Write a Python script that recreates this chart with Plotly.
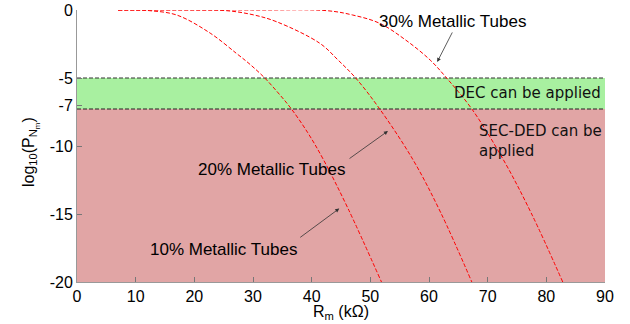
import plotly.graph_objects as go

# ---- data ----
x10 = [7, 10, 12.4, 17, 22.7, 27.2, 29.5, 32.0, 34.3, 36.5, 39.3, 42.0, 46.2, 51.9]
y10 = [0, 0, -0.05, -0.37, -1.7, -3.2, -4.0, -5.0, -6.1, -7.25, -9.0, -11.0, -14.6, -20]
x20 = [7, 20, 25.5, 30, 34, 41.4, 44.5, 47.5, 51.6, 57.3, 62.0, 67.3]
y20 = [0, 0, -0.05, -0.35, -0.86, -2.45, -3.68, -5.0, -7.28, -11.03, -14.9, -20]
x30 = [7, 30, 42.6, 47, 51.6, 56, 60.2, 63, 67.3, 72.7, 77.5, 82.8]
y30 = [0, 0, -0.05, -0.37, -0.98, -2.2, -3.68, -5.0, -7.28, -11.03, -15.0, -20]

dec_top = -5
dec_bottom = -7.28
y_min = -20
x_max = 90

x_ticks = [0, 10, 20, 30, 40, 50, 60, 70, 80, 90]
y_ticks = [0, -5, -7, -10, -15, -20]
y_tick_text = ["0", "-5", "-7", "-10", "-15", "-20"]

fig = go.Figure()

for xs, ys in [(x10, y10), (x20, y20), (x30, y30)]:
    fig.add_trace(go.Scatter(x=xs, y=ys, mode="lines", line_shape="spline",
                             line=dict(color="red", width=1, dash="4px,2px"),
                             showlegend=False, hoverinfo="skip"))

shapes = [
    dict(type="rect", xref="x", yref="y", x0=0, x1=x_max, y0=dec_bottom, y1=dec_top,
         fillcolor="rgb(168,240,160)", line=dict(width=0), layer="below"),
    dict(type="rect", xref="x", yref="y", x0=0, x1=x_max, y0=y_min, y1=dec_bottom,
         fillcolor="rgb(225,165,165)", line=dict(width=0), layer="below"),
    dict(type="line", xref="x", yref="y", x0=0, x1=x_max, y0=dec_top, y1=dec_top,
         line=dict(color="#333333", width=1, dash="4px,2px"), layer="below"),
    dict(type="line", xref="x", yref="y", x0=0, x1=x_max, y0=dec_bottom, y1=dec_bottom,
         line=dict(color="#222222", width=1, dash="4px,2px"), layer="below"),
]

label_font = dict(family="Liberation Sans, Arial", size=17, color="black")
note_font = dict(family="DejaVu Sans, Verdana", size=15, color="#111111")

annotations = [
    dict(x=61.4, y=-3.82, ax=64.1, ay=-1.54, xref="x", yref="y", axref="x", ayref="y",
         text="", showarrow=True, arrowhead=2, arrowsize=1, arrowwidth=0.8, arrowcolor="#333"),
    dict(x=64.0, y=-0.85, xref="x", yref="y", text="30% Metallic Tubes", showarrow=False,
         font=label_font),
    dict(x=53.0, y=-8.9, ax=46.2, ay=-11.0, xref="x", yref="y", axref="x", ayref="y",
         text="", showarrow=True, arrowhead=2, arrowsize=1, arrowwidth=0.8, arrowcolor="#333"),
    dict(x=33.2, y=-11.75, xref="x", yref="y", text="20% Metallic Tubes", showarrow=False,
         font=label_font),
    dict(x=44.7, y=-14.6, ax=37.8, ay=-16.8, xref="x", yref="y", axref="x", ayref="y",
         text="", showarrow=True, arrowhead=2, arrowsize=1, arrowwidth=0.8, arrowcolor="#333"),
    dict(x=25.0, y=-17.6, xref="x", yref="y", text="10% Metallic Tubes", showarrow=False,
         font=label_font),
    dict(x=89.7, y=-6.1, xref="x", yref="y", text="DEC can be applied", showarrow=False,
         xanchor="right", font=note_font),
    dict(x=68.2, y=-9.6, xref="x", yref="y", text="SEC-DED can be<br>applied", showarrow=False,
         xanchor="left", align="left", font=note_font),
    # axis titles
    dict(x=0.5, y=-0.072, xref="paper", yref="paper", xanchor="center", yanchor="top",
         text="R<sub>m</sub> (kΩ)", showarrow=False, borderpad=0,
         font=dict(family="Liberation Sans, Arial", size=16, color="black")),
    dict(x=-0.087, y=0.478, xref="paper", yref="paper", xanchor="center", yanchor="middle",
         textangle=-90, text="log<sub>10</sub>(P<sub>N<sub>m</sub></sub>)", showarrow=False,
         font=dict(family="Liberation Sans, Arial", size=16, color="black")),
]

fig.update_layout(
    width=630, height=324,
    margin=dict(l=77, r=25, t=10, b=42, autoexpand=False),
    paper_bgcolor="white", plot_bgcolor="white",
    shapes=shapes, annotations=annotations,
    font=dict(family="Liberation Sans, Arial", size=16, color="black"),
)
fig.update_xaxes(range=[0, x_max], tickvals=x_ticks, ticks="inside", ticklen=5,
                 tickcolor="#777", showline=True, linecolor="#999", linewidth=1,
                 showgrid=False, zeroline=False, tickfont=dict(size=16), automargin=False)
fig.update_yaxes(range=[y_min, 0], tickvals=y_ticks, ticktext=y_tick_text, ticks="inside",
                 ticklen=5, tickcolor="#777", showline=True, linecolor="#999", linewidth=1,
                 showgrid=False, zeroline=False, tickfont=dict(size=16), automargin=False)

fig.write_html("out.html", config={"displayModeBar": False},
               post_script="document.body.style.margin='0';")
